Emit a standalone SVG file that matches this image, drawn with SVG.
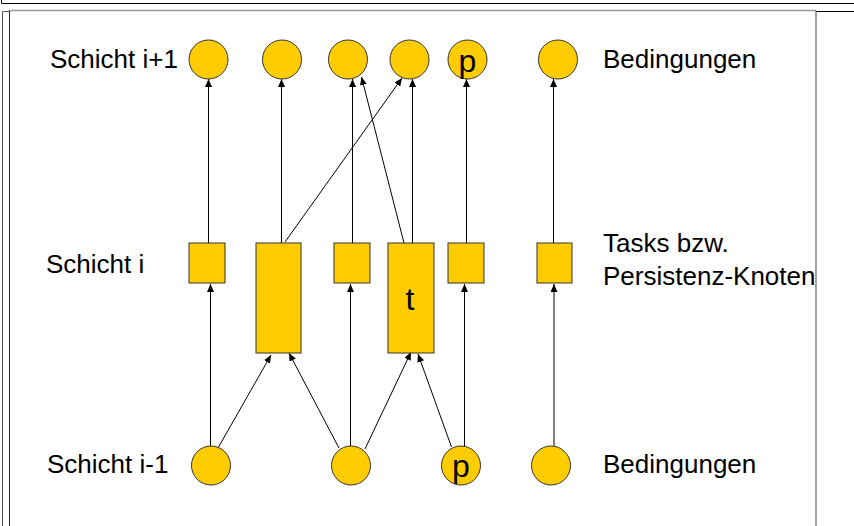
<svg xmlns="http://www.w3.org/2000/svg" width="854" height="526" viewBox="0 0 854 526">
<defs>
<style>
.n{fill:#FFCC00;stroke:#333;stroke-width:1}
.lbl{font-family:"Liberation Sans",Arial,sans-serif;font-size:26px;fill:#000}
.in{font-family:"Liberation Sans",Arial,sans-serif;font-size:32px;fill:#000;text-anchor:middle}
.c{stroke:#000;stroke-width:1;fill:none;marker-end:url(#ah)}
</style>
<marker id="ah" markerUnits="userSpaceOnUse" markerWidth="9" markerHeight="8" refX="8" refY="3.5" orient="auto">
<path d="M0,0 L8,3.5 L0,7 z" fill="#000"/>
</marker>
</defs>
<rect width="854" height="526" fill="#fff"/>
<g id="frame" fill="none">
<path d="M1.5,0 V3.5 H854" stroke="#000"/>
<path d="M2.5,526 V11.5 H9.5" stroke="#555"/>
<path d="M9.5,10.5 H816" stroke="#999" stroke-width="1.5"/>
<path d="M9.5,10.5 V526" stroke="#222"/>
<path d="M816,10.5 V526" stroke="#666" stroke-width="1.2"/>
<path d="M816,11.5 H854" stroke="#000"/>
</g>
<g id="labels">
<text class="lbl" x="50" y="68">Schicht i+1</text>
<text class="lbl" x="46" y="273">Schicht i</text>
<text class="lbl" x="47" y="473">Schicht i-1</text>
<text class="lbl" x="603" y="68">Bedingungen</text>
<text class="lbl" x="603" y="252">Tasks bzw.</text>
<text class="lbl" x="603" y="285">Persistenz-Knoten</text>
<text class="lbl" x="603" y="473">Bedingungen</text>
</g>
<g id="connectors">
<path class="c" d="M208.5,243 V79"/>
<path class="c" d="M281.5,243 V79"/>
<path class="c" d="M285,242 L402,78"/>
<path class="c" d="M352.5,243 V79"/>
<path class="c" d="M404,243 L361.5,77"/>
<path class="c" d="M412.5,243 V79"/>
<path class="c" d="M466.5,243 V79"/>
<path class="c" d="M553.5,243 V79"/>
<path class="c" d="M210.5,447 V284"/>
<path class="c" d="M218,448 L271,355"/>
<path class="c" d="M339,448 L289,353"/>
<path class="c" d="M350.5,446 V284"/>
<path class="c" d="M365,449 L411,352"/>
<path class="c" d="M451.5,447 L418,354"/>
<path class="c" d="M464.5,447 V284"/>
<path class="c" d="M554,447 V284"/>
</g>
<g id="top1"><circle class="n" cx="208.5" cy="59.5" r="19.5"/></g>
<g id="top2"><circle class="n" cx="282" cy="59.5" r="19.5"/></g>
<g id="top3"><circle class="n" cx="348" cy="59.5" r="19.5"/></g>
<g id="top4"><circle class="n" cx="409.5" cy="59.5" r="19.5"/></g>
<g id="top5"><circle class="n" cx="467.5" cy="59.5" r="19.5"/><text class="in" x="467.5" y="72">p</text></g>
<g id="top6"><circle class="n" cx="558" cy="59.5" r="19.5"/></g>
<g id="mid1"><rect class="n" x="189" y="243" width="36" height="40"/></g>
<g id="mid2"><rect class="n" x="256" y="243" width="45" height="110"/></g>
<g id="mid3"><rect class="n" x="334" y="243" width="36" height="40"/></g>
<g id="mid4"><rect class="n" x="388" y="243" width="46" height="110"/><text class="in" x="410" y="310">t</text></g>
<g id="mid5"><rect class="n" x="448" y="243" width="36" height="40"/></g>
<g id="mid6"><rect class="n" x="537" y="243" width="35" height="40"/></g>
<g id="bot1"><circle class="n" cx="211" cy="465.5" r="19.5"/></g>
<g id="bot2"><circle class="n" cx="351" cy="465.5" r="19.5"/></g>
<g id="bot3"><circle class="n" cx="461" cy="465.5" r="19.5"/><text class="in" x="461" y="477">p</text></g>
<g id="bot4"><circle class="n" cx="551" cy="465.5" r="19.5"/></g>
</svg>
